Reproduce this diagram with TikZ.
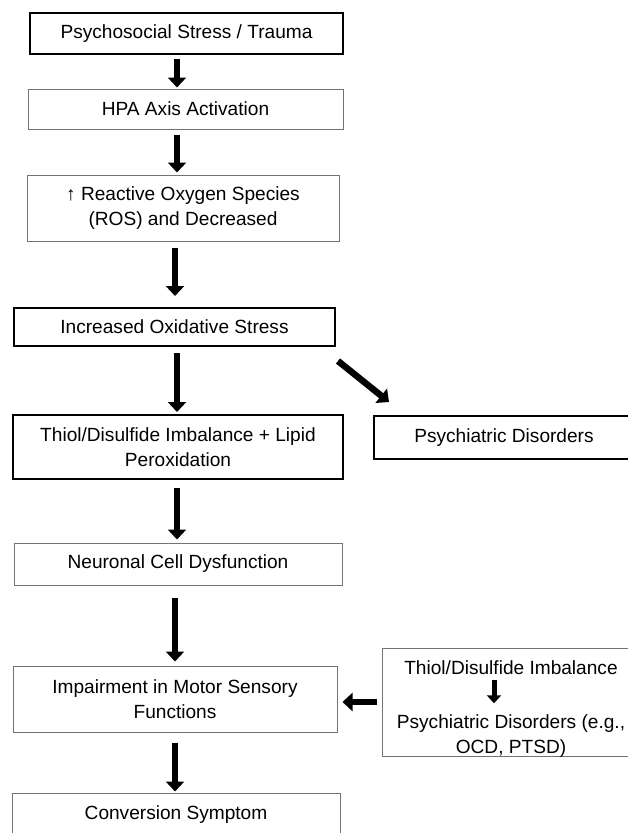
\documentclass[tikz,border=0pt]{standalone}
\usepackage{fontspec}
\setmainfont{Liberation Sans}
\usetikzlibrary{arrows.meta}
\begin{document}
\begin{tikzpicture}[x=1pt,y=-1pt,
  txt/.style={font=\fontsize{19.1}{25}\selectfont},
  thinbox/.style={txt, draw=black!55, line width=1pt, inner sep=0pt, align=center},
  thickbox/.style={thinbox, draw=black, line width=2pt},
  plain/.style={txt, inner sep=0pt, text height=13.5pt, text depth=4pt, anchor=base},
  blk/.style={line width=6.5pt, -{Triangle[width=18pt,length=10pt]}},
  smallblk/.style={line width=5pt, -{Triangle[width=14pt,length=8pt]}}]
\useasboundingbox[fill=white] (0,0) rectangle (628,833);

\node[thickbox, minimum width=313pt, minimum height=41pt] (b1) at (186.5,33.5) {Psychosocial Stress / Trauma};
\node[thinbox, minimum width=315pt, minimum height=40pt] (b2) at (185.5,109) {HPA Axis Activation};
\node[thinbox, minimum width=312pt, minimum height=66pt] (b3) at (183,208) {↑ Reactive Oxygen Species\\(ROS) and Decreased};
\node[thickbox, minimum width=321pt, minimum height=38pt] (b4) at (174.5,327) {Increased Oxidative Stress};
\node[thickbox, minimum width=330pt, minimum height=64pt] (b5) at (178,447) {Thiol/Disulfide Imbalance + Lipid\\Peroxidation};
\node[thickbox, minimum width=260pt, minimum height=43pt] (b6) at (504,437.5) {Psychiatric Disorders};
\node[thinbox, minimum width=328pt, minimum height=42pt] (b7) at (178,564) {Neuronal Cell Dysfunction};
\node[thinbox, minimum width=324pt, minimum height=66pt] (b8) at (175,699) {Impairment in Motor Sensory\\Functions};
\node[thinbox, minimum width=328pt, minimum height=44pt] (b9) at (176,815) {Conversion Symptom};
\node[thinbox, minimum width=259pt, minimum height=108pt] (b10) at (511.5,702) {};
\node[plain] (t1) at (511,674.5) {Thiol/Disulfide Imbalance};
\node[plain] (t2) at (511,728.5) {Psychiatric Disorders (e.g.,};
\node[plain] (t3) at (511,753.5) {OCD, PTSD)};

\coordinate (ax) at (177,0);
\coordinate (bx) at (175,0);
\coordinate (sx) at (494,0);

\draw[blk, shorten <=4pt, shorten >=1pt] (b1.south -| ax) -- (b2.north -| ax);
\draw[blk, shorten <=5pt, shorten >=2pt] (b2.south -| ax) -- (b3.north -| ax);
\draw[blk, shorten <=6pt, shorten >=11pt] (b3.south -| bx) -- (b4.north -| bx);
\draw[blk, shorten <=6pt, shorten >=2pt] (b4.south -| ax) -- (b5.north -| ax);
\draw[blk, shorten <=8pt, shorten >=3pt] (b5.south -| ax) -- (b7.north -| ax);
\draw[blk, shorten <=12pt, shorten >=4pt] (b7.south -| bx) -- (b8.north -| bx);
\draw[blk, shorten <=10pt, shorten >=1pt] (b8.south -| bx) -- (b9.north -| bx);
\draw[blk] ([shift={(2,14)}]b4.south east) -- ([shift={(16,-13)}]b6.north west);
\draw[blk, shorten <=5pt, shorten >=5pt] (b10.west) -- (b8.east |- b10.west);
\draw[smallblk, shorten <=1.5pt, shorten >=11.5pt] (t1.south -| sx) -- (t2.north -| sx);
\end{tikzpicture}
\end{document}
